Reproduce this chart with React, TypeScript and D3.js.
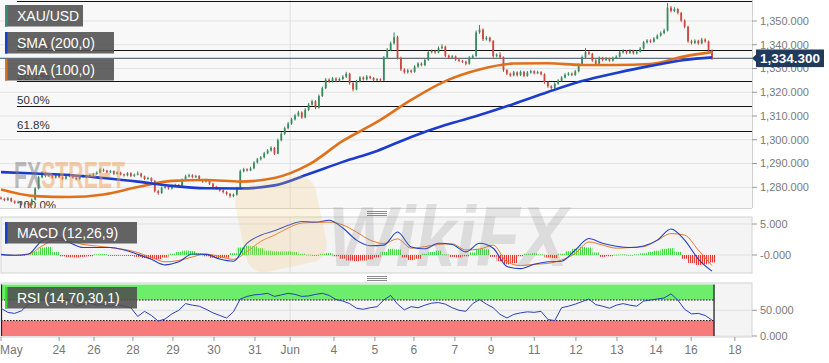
import React from 'react';
import * as d3 from 'd3';

// ---------- DATA ----------
const OPEN0 = 1275.6;
const closes = [
  1275.2,1274.6,1275.4,1274.1,1273.5,1273.9,1272.8,1273.4,1272.6,1274.8,
  1279.5,1284.2,1286.1,1284.8,1285.3,1284.1,1285.0,1284.3,1283.6,1284.7,
  1285.2,1284.0,1283.4,1284.5,1284.9,1284.2,1285.1,1285.6,1286.2,1287.4,
  1287.0,1286.3,1286.8,1285.7,1286.2,1285.4,1285.0,1285.9,1284.8,1285.3,
  1285.8,1284.6,1283.5,1283.9,1282.7,1278.4,1277.6,1279.8,1280.3,1279.5,
  1280.6,1281.0,1280.4,1283.2,1284.6,1285.1,1284.3,1284.8,1283.0,1282.4,
  1283.1,1281.5,1280.2,1279.6,1278.7,1278.0,1277.2,1276.3,1276.9,1279.6,
  1286.8,1287.6,1287.1,1288.0,1290.4,1291.8,1292.6,1294.3,1295.5,1296.6,
  1294.2,1299.8,1302.5,1304.9,1306.8,1308.6,1310.2,1311.5,1309.4,1312.6,
  1314.8,1316.2,1313.5,1318.4,1321.7,1325.3,1324.6,1325.8,1324.9,1325.6,
  1326.5,1327.8,1323.9,1321.2,1324.6,1326.2,1325.4,1326.6,1326.0,1325.1,
  1325.5,1325.0,1334.6,1337.8,1340.6,1343.2,1334.5,1329.6,1328.4,1329.2,
  1328.6,1330.8,1332.1,1331.4,1333.6,1336.9,1337.4,1336.8,1338.6,1339.2,
  1335.4,1334.6,1335.1,1333.8,1333.2,1332.9,1332.0,1334.6,1335.3,1345.2,
  1346.4,1342.3,1343.0,1341.6,1335.2,1335.8,1334.7,1329.3,1327.8,1327.1,
  1328.4,1327.2,1328.6,1326.9,1328.3,1328.9,1328.0,1328.5,1327.6,1324.3,
  1322.5,1321.8,1323.6,1324.9,1326.2,1327.4,1327.9,1327.3,1328.8,1331.6,
  1334.8,1336.9,1336.2,1333.4,1332.0,1334.5,1333.6,1334.2,1333.3,1334.4,
  1335.0,1336.8,1337.4,1336.6,1337.5,1336.4,1337.1,1338.4,1341.0,1341.8,
  1341.3,1342.6,1343.8,1344.9,1346.0,1355.6,1354.2,1355.0,1353.4,1350.2,
  1347.6,1341.5,1340.8,1341.7,1340.6,1342.2,1341.4,1337.6,1334.3
];
const highs = [
  1276.1,1275.6,1275.9,1275.7,1274.5,1274.4,1274.2,1273.9,1273.7,1275.3,
  1280.1,1284.8,1286.8,1286.5,1285.9,1285.7,1285.5,1285.4,1284.7,1285.2,
  1285.8,1285.6,1284.4,1285.0,1285.4,1285.3,1285.6,1286.1,1286.7,1288.0,
  1287.9,1287.4,1287.3,1287.1,1286.7,1286.6,1285.8,1286.4,1286.3,1285.8,
  1286.7,1286.1,1284.9,1284.4,1284.2,1283.0,1279.0,1280.3,1280.9,1280.7,
  1281.1,1281.5,1281.4,1283.7,1285.3,1285.7,1285.5,1285.2,1285.1,1283.4,
  1283.6,1283.5,1281.9,1280.6,1280.0,1279.1,1278.4,1277.6,1277.4,1280.2,
  1287.5,1288.2,1288.0,1288.6,1291.0,1292.4,1293.2,1294.9,1296.1,1297.3,
  1297.0,1300.5,1303.2,1305.6,1307.5,1309.3,1310.9,1312.2,1312.0,1313.3,
  1315.5,1316.9,1316.7,1319.1,1322.4,1326.0,1325.9,1326.4,1326.3,1326.2,
  1327.2,1328.6,1328.2,1324.4,1325.2,1326.8,1326.7,1327.2,1327.0,1326.4,
  1326.0,1325.9,1335.3,1338.6,1341.4,1345.2,1343.8,1335.0,1330.1,1329.8,
  1329.6,1331.4,1332.7,1332.6,1334.2,1337.5,1338.0,1337.9,1339.3,1340.2,
  1339.6,1335.9,1335.7,1335.5,1334.3,1333.7,1333.3,1335.2,1335.9,1346.0,
  1348.3,1346.9,1343.7,1343.4,1342.0,1336.4,1336.9,1335.1,1329.8,1328.3,
  1329.0,1328.8,1329.2,1329.0,1328.9,1329.5,1329.3,1329.1,1328.9,1328.0,
  1324.8,1323.0,1324.2,1325.5,1326.8,1328.0,1328.5,1328.3,1329.4,1332.2,
  1335.5,1338.6,1337.5,1336.6,1333.9,1335.1,1334.9,1334.8,1334.6,1335.0,
  1335.6,1337.4,1338.1,1337.8,1338.1,1337.9,1337.7,1339.0,1341.6,1342.4,
  1342.3,1343.2,1344.4,1345.6,1346.8,1357.6,1356.3,1355.8,1355.4,1353.9,
  1350.7,1348.0,1342.1,1342.3,1342.1,1342.9,1342.7,1341.8,1338.0
];
const lows = [
  1274.8,1274.1,1274.3,1273.7,1273.0,1273.1,1272.3,1272.4,1271.9,1272.2,
  1274.5,1279.1,1283.8,1284.2,1284.3,1283.6,1283.7,1283.8,1283.1,1283.2,
  1284.3,1283.6,1282.9,1283.0,1284.0,1283.8,1283.9,1284.7,1285.2,1285.9,
  1286.5,1285.8,1285.9,1285.2,1285.3,1285.0,1284.5,1284.6,1284.3,1284.4,
  1285.0,1284.1,1283.0,1283.1,1282.2,1277.8,1276.8,1277.2,1279.4,1279.0,
  1279.1,1280.2,1279.9,1280.0,1282.8,1284.1,1283.8,1283.9,1282.6,1281.9,
  1282.0,1281.0,1279.7,1279.0,1278.2,1277.4,1276.6,1275.6,1275.8,1276.5,
  1279.2,1286.3,1286.6,1286.8,1287.6,1290.0,1291.3,1292.2,1293.9,1295.0,
  1293.6,1293.9,1299.3,1302.0,1304.4,1306.3,1308.1,1309.7,1308.8,1309.0,
  1312.1,1314.3,1312.9,1313.1,1318.0,1321.3,1324.0,1324.1,1324.3,1324.4,
  1325.1,1326.0,1323.2,1320.4,1320.8,1324.1,1324.9,1325.0,1325.5,1324.6,
  1324.7,1324.5,1324.7,1334.1,1337.3,1340.1,1333.8,1328.9,1327.8,1327.9,
  1328.0,1328.2,1330.3,1330.9,1331.0,1333.2,1336.4,1336.2,1336.4,1338.1,
  1334.8,1334.0,1334.1,1333.2,1332.7,1332.3,1331.3,1331.6,1334.1,1334.9,
  1344.6,1341.6,1341.8,1341.0,1334.5,1334.7,1334.1,1328.6,1327.2,1326.5,
  1326.7,1326.6,1326.8,1326.3,1326.5,1327.8,1327.5,1327.6,1327.1,1323.6,
  1321.9,1320.9,1321.3,1323.1,1324.5,1325.8,1326.9,1326.8,1326.9,1328.4,
  1331.2,1334.3,1335.6,1332.8,1331.4,1331.6,1333.0,1333.1,1332.8,1332.9,
  1334.0,1334.6,1336.3,1336.0,1336.1,1335.9,1335.9,1336.7,1338.0,1340.5,
  1340.8,1340.9,1342.2,1343.4,1344.4,1345.6,1353.6,1353.7,1352.8,1349.5,
  1346.9,1340.8,1340.1,1340.3,1340.0,1340.2,1340.8,1336.9,1333.6
];

const smaIdx = [0,10,20,30,40,50,60,70,80,90,100,110,120,130,140,150,160,170,180,190,200,208];
const sma200 = [1286.4,1285.8,1285.2,1283.9,1282.4,1280.6,1279.6,1279.5,1280.8,1285.6,1290.7,1295.3,1301.2,1306.2,1310.4,1315.1,1320.1,1324.7,1328.1,1331.1,1333.6,1334.7];
const sma100 = [1279.1,1276.3,1275.9,1277.0,1280.1,1282.7,1283.1,1282.4,1283.9,1289.5,1299.5,1307.5,1316.8,1324.7,1329.6,1332.1,1332.2,1331.5,1331.5,1331.9,1335.1,1336.9];

const macdLine = [0.1,-0.05,0.15,2.3,2.9,2.0,1.2,1.2,1.2,0.8,0.1,-0.7,-1.6,-1.1,0.15,0.1,-0.65,-1.0,1.9,3.2,3.9,4.8,5.4,5.3,5.6,4.35,2.4,1.5,1.6,3.7,1.3,1.0,1.9,1.7,0.5,1.9,1.1,-1.85,-2.2,-1.5,-1.1,-1.0,0.8,2.65,1.9,1.4,1.2,1.45,2.4,4.2,2.4,-0.65,-2.6];
const signalLine = [0,-0.05,0.1,1.45,2.4,2.25,1.7,1.45,1.2,0.9,0.4,-0.4,-1.1,-0.9,-0.3,0.15,-0.25,-0.7,0.55,2.2,3.2,4.35,5.15,5.25,5.3,4.85,3.7,2.4,1.85,2.6,1.1,1.35,1.7,1.8,0.8,0.95,1.6,-1.1,-1.7,-1.5,-1.35,-0.8,0.25,2.1,1.6,1.1,1.2,1.35,2.35,3.45,3.2,0.8,-1.7];
const histVals = [
  0.1,0.05,-0.05,-0.1,0.1, 0.6,1.2,1.3,0.5,-0.2, -0.35,-0.4,-0.3,-0.2,0.1,
  0.15,-0.1,-0.1,-0.1,-0.15, -0.3,-0.5,-0.6,-0.65,-0.4, 0.2,0.5,0.7,0.65,0.3,
  -0.2,-0.45,-0.5,-0.4,0.3, 1.2,1.5,1.4,1.1,0.7, 0.6,0.55,0.6,0.5,0.2,
  0.05,-0.05,0.2,0.3,-0.2, -0.6,-0.9,-1.0,-0.9,-0.7, -0.4,0.5,1.0,0.9,-0.4,
  -0.8,-0.6,0.2,0.5,0.7, 0.1,-0.3,-0.4,-0.2,0.4, 1.0,0.9,-0.3,-1.0,-1.5,
  -1.3,-0.2,0.2,0.3,0.1, -0.4,-0.5,0.2,0.6,1.0, 1.3,1.2,0.4,-0.3,-0.2,
  0.05,0.1,0.0,0.1,0.3, 0.5,0.7,1.0,1.1,0.5, -0.6,-1.3,-1.6,-1.5,-1.2
];
const rsiVals = [
  54,46,44,49,62, 65,70,66,67,72, 70,58,61,64,60, 61,58,61,58,55,
  38,48,40,29,33, 43,50,63,60,58, 52,45,40,35,47, 72,77,80,81,83,
  77,80,83,81,77, 78,81,83,79,71, 68,63,54,52,55, 57,70,79,62,51,
  57,55,60,64,65, 62,55,50,48,63, 71,62,55,42,35, 42,45,47,46,48,
  32,30,55,58,62, 67,72,61,58,54, 60,63,60,58,68, 70,72,74,82,70,
  52,43,44,40,31
];

const xTickIdx = [0,17,27.2,38.6,50.3,62.3,74.3,84.6,97.4,109.4,120.8,132.8,143.4,156,168.2,180.2,191.6,201.9,214.7];
const xTickLabels = ['May','24','26','28','29','30','31','Jun','4','5','6','7','9','11','12','13','14','16','18'];
const monthIdx = [84.6];
const priceTicks = [1280,1290,1300,1310,1320,1330,1340,1350];
const macdTicks = [5, 0];
const macdTickLabels = ['5.000', '-0.000'];
const rsiTicks = [50, 0];
const rsiTickLabels = ['50.000', '0.000'];
const fibHigh = 1358.5;
const fibLow = 1270.1;
const fibLevels = [0, 0.236, 0.382, 0.5, 0.618, 1];
const fibLabels = ['', '23.6%', '38.2%', '50.0%', '61.8%', '100.0%'];
const lastPrice = 1334.3;
const rsiUpper = 70;
const rsiLower = 30;

// ---------- CHART ----------
const W = 829, H = 363;
const FONT = "'Liberation Sans', Arial, Helvetica, sans-serif";
const UP = '#3b8a5e';
const DOWN = '#c9493f';
const BLUE = '#1c3dcc';
const ORANGE = '#e0711c';

export default function App() {
  const plotL = 1, plotR = 752;
  const mainTop = 0, mainBot = 208;
  const macdTop = 217, macdBot = 273;
  const rsiTop = 283, rsiBot = 337;

  const x = d3.scaleLinear().domain([0, 220]).range([1, 753]);
  const step = x(1) - x(0);
  const yP = d3.scaleLinear().domain([1280, 1350]).range([187.3, 21]);
  const yM = d3.scaleLinear().domain([0, 5]).range([255, 224]);
  const yR = d3.scaleLinear().domain([0, 100]).range([336, 284.6]);

  const last = closes.length - 1;
  const dataRight = x(last) + step * 0.6;

  const candles = closes.map((c, i) => ({
    i, c, o: i === 0 ? OPEN0 : closes[i - 1], h: highs[i], l: lows[i],
  }));

  const smaPath = (vals: number[]) =>
    d3.line<number>().x((_, k) => x(smaIdx[k])).y(v => yP(v)).curve(d3.curveMonotoneX)(vals) || '';
  const macdIdx = macdLine.map((_, k) => k * 4);
  const macdPath = (vals: number[]) =>
    d3.line<number>().x((_, k) => x(macdIdx[k])).y(v => yM(v)).curve(d3.curveMonotoneX)(vals) || '';
  const evenIdx = rsiVals.map((_, k) => k * 2);
  const rsiPath = d3.line<number>().x((_, k) => x(evenIdx[k])).y(v => yR(v))(rsiVals) || '';

  const fibY = (lv: number) => yP(fibHigh - lv * (fibHigh - fibLow));
  const fmt = d3.format(',.3f');

  const legend = (y: number, w: number, label: string, color: string) => (
    <g>
      <rect x={5} y={y} width={w} height={21.5} fill="rgb(78,78,78)" fillOpacity={0.88} />
      <rect x={5} y={y} width={2.5} height={21.5} fill={color} />
      <text x={17} y={y + 15.8} fill="#fff" fontSize={14} fontFamily={FONT}>{label}</text>
    </g>
  );

  const handle = (y: number) => (
    <g stroke="#8a8a8a" strokeWidth={1}>
      {[0, 2, 4].map(d => <line key={d} x1={367} x2={387} y1={y + d + 0.5} y2={y + d + 0.5} />)}
    </g>
  );

  return (
    <div style={{ position: 'absolute', left: 0, top: 0 }}>
      <svg width={W} height={H} style={{ display: 'block', background: '#fff' }} fontFamily={FONT}>
        <defs>
          <clipPath id="clipMain"><rect x={0} y={mainTop} width={plotR} height={mainBot - mainTop} /></clipPath>
          <clipPath id="clipMacd"><rect x={plotL} y={macdTop} width={plotR - plotL} height={macdBot - macdTop} /></clipPath>
          <clipPath id="clipRsi"><rect x={plotL} y={rsiTop} width={plotR - plotL} height={rsiBot - rsiTop} /></clipPath>
          <pattern id="stripeG" width={2} height={4} patternUnits="userSpaceOnUse">
            <rect x={0} y={0} width={1.1} height={4} fill="#3fd83f" />
          </pattern>
          <pattern id="stripeR" width={2} height={4} patternUnits="userSpaceOnUse">
            <rect x={0} y={0} width={1.1} height={4} fill="#e8352e" />
          </pattern>
        </defs>

        {/* panel backgrounds */}
        <rect x={0} y={mainTop} width={plotR} height={mainBot - mainTop} fill="#f8f8f8" />
        <rect x={plotL} y={macdTop} width={plotR - plotL} height={macdBot - macdTop} fill="#f4f4f4" stroke="#d2d2d2" />
        <rect x={plotL} y={rsiTop} width={plotR - plotL} height={rsiBot - rsiTop} fill="#f4f4f4" stroke="#d2d2d2" />
        <line x1={plotR + 0.5} x2={plotR + 0.5} y1={mainTop} y2={mainBot} stroke="#d2d2d2" />
        <line x1={0} x2={plotR} y1={mainBot + 0.5} y2={mainBot + 0.5} stroke="#d2d2d2" />

        {/* grid */}
        {priceTicks.map(t => (
          <line key={t} x1={0} x2={plotR} y1={yP(t)} y2={yP(t)} stroke="#e3e3e3" />
        ))}
        {macdTicks.map(t => (
          <line key={t} x1={plotL} x2={plotR} y1={yM(t)} y2={yM(t)} stroke="#e0e0e0" />
        ))}
        {rsiTicks.map(t => (
          <line key={t} x1={plotL} x2={plotR} y1={yR(t)} y2={yR(t)} stroke="#e0e0e0" />
        ))}
        {monthIdx.map(m => (
          <g key={m} stroke="#dedede">
            <line x1={x(m)} x2={x(m)} y1={mainTop} y2={mainBot} />
            <line x1={x(m)} x2={x(m)} y1={macdTop} y2={macdBot} />
            <line x1={x(m)} x2={x(m)} y1={rsiTop} y2={rsiBot} />
          </g>
        ))}

        {/* main panel */}
        <g clipPath="url(#clipMain)">
          {fibLevels.map((lv, k) => (
            <g key={lv}>
              <line x1={17} x2={plotR} y1={Math.round(fibY(lv)) + 0.5} y2={Math.round(fibY(lv)) + 0.5} stroke="#111" strokeWidth={1.2} />
              {fibLabels[k] ? <text x={17} y={fibY(lv) - 1.5} fontSize={11.5} fill="#333">{fibLabels[k]}</text> : null}
            </g>
          ))}
          <line x1={0} x2={plotR} y1={yP(lastPrice)} y2={yP(lastPrice)} stroke="#3b4d63" strokeWidth={1} />
          {candles.map(d => {
            const col = d.c >= d.o ? UP : DOWN;
            const top = yP(Math.max(d.o, d.c));
            const bot = yP(Math.min(d.o, d.c));
            return (
              <g key={d.i}>
                <line x1={x(d.i)} x2={x(d.i)} y1={yP(d.h)} y2={yP(d.l)} stroke={col} strokeWidth={1} />
                <rect x={x(d.i) - 0.9} y={top} width={1.8} height={Math.max(1, bot - top)} fill={col} />
              </g>
            );
          })}
          <path d={smaPath(sma100)} fill="none" stroke={ORANGE} strokeWidth={2.6} />
          <path d={smaPath(sma200)} fill="none" stroke={BLUE} strokeWidth={2.6} />
        </g>

        {/* MACD panel */}
        <g clipPath="url(#clipMacd)">
          {histVals.map((v, k) => {
            const i = evenIdx[k];
            const y0 = yM(0), y1 = yM(v);
            return (
              <rect key={i} x={x(i - 1)} width={2 * step} y={Math.min(y0, y1)} height={Math.max(0.8, Math.abs(y1 - y0))}
                fill={v >= 0 ? 'url(#stripeG)' : 'url(#stripeR)'} />
            );
          })}
          <path d={macdPath(signalLine)} fill="none" stroke="#e8792a" strokeWidth={1} />
          <path d={macdPath(macdLine)} fill="none" stroke="#2340c4" strokeWidth={1.1} />
        </g>

        {/* RSI panel */}
        <g clipPath="url(#clipRsi)">
          <rect x={plotL} y={yR(100)} width={dataRight - plotL} height={yR(rsiUpper) - yR(100)} fill="#6cee6c" />
          <rect x={plotL} y={yR(rsiLower)} width={dataRight - plotL} height={yR(0) - yR(rsiLower)} fill="#f77b7b" />
          <line x1={plotL} x2={dataRight} y1={yR(rsiUpper)} y2={yR(rsiUpper)} stroke="#111" strokeDasharray="1.5,1.5" />
          <line x1={plotL} x2={dataRight} y1={yR(rsiLower)} y2={yR(rsiLower)} stroke="#111" strokeDasharray="1.5,1.5" />
          <line x1={dataRight} x2={dataRight} y1={yR(100)} y2={yR(0)} stroke="#111" strokeWidth={1.2} />
          <line x1={plotL + 0.5} x2={plotL + 0.5} y1={yR(100)} y2={yR(0)} stroke="#222" strokeWidth={1.2} />
          <path d={rsiPath} fill="none" stroke="#2740b8" strokeWidth={1} />
        </g>

        {/* drag handles */}
        {handle(211)}
        {handle(276)}

        {/* right axes */}
        {priceTicks.map(t => (
          <g key={t}>
            <line x1={plotR} x2={plotR + 5} y1={yP(t)} y2={yP(t)} stroke="#999" />
            <text x={760} y={yP(t)} dy="0.35em" fontSize={11} fill="#7a7a7a">{fmt(t)}</text>
          </g>
        ))}
        {macdTicks.map((t, k) => (
          <g key={t}>
            <line x1={plotR} x2={plotR + 5} y1={yM(t)} y2={yM(t)} stroke="#999" />
            <text x={760} y={yM(t)} dy="0.35em" fontSize={11} fill="#7a7a7a">{macdTickLabels[k]}</text>
          </g>
        ))}
        {rsiTicks.map((t, k) => (
          <g key={t}>
            <line x1={plotR} x2={plotR + 5} y1={yR(t)} y2={yR(t)} stroke="#999" />
            <text x={760} y={yR(t)} dy="0.35em" fontSize={11} fill="#7a7a7a">{rsiTickLabels[k]}</text>
          </g>
        ))}

        {/* last price tag */}
        <g>
          <polygon points={`${plotR},${yP(lastPrice)} ${plotR + 5},${yP(lastPrice) - 4.5} ${plotR + 5},${yP(lastPrice) + 4.5}`} fill="#1f3a5c" />
          <rect x={plotR + 4} y={yP(lastPrice) - 8.8} width={68} height={17.6} fill="#1f3a5c" />
          <text x={plotR + 38} y={yP(lastPrice)} dy="0.36em" textAnchor="middle" fontSize={13.5} fontWeight="bold" fill="#fff">{fmt(lastPrice)}</text>
        </g>

        {/* x axis */}
        {xTickIdx.map((t, k) => (
          <g key={k}>
            <line x1={x(t)} x2={x(t)} y1={rsiBot} y2={rsiBot + 4} stroke="#999" />
            <text x={k === 0 ? 0 : x(t)} y={354} textAnchor={k === 0 ? 'start' : 'middle'} fontSize={12} fill="#777">{xTickLabels[k]}</text>
          </g>
        ))}

        {/* watermarks */}
        <text x={14} y={188} fontSize={36} fontWeight="bold" textLength={111} lengthAdjust="spacingAndGlyphs" opacity={0.5}>
          <tspan fill="#7d7d7d">FX</tspan><tspan fill="#eea25a">STREET</tspan>
        </text>
        <g opacity={0.22}>
          <rect x={240} y={180} width={82} height={88} rx={18} fill="#f0c670" transform="rotate(-12 281 224)" />
          <text x={328} y={266} fontSize={86} fontWeight="bold" fill="#8a8a8a" fontStyle="italic" textLength={240} lengthAdjust="spacingAndGlyphs">WikiFX</text>
        </g>

        {/* legends */}
        {legend(5, 78, 'XAU/USD', '#3a8e78')}
        {legend(32, 109, 'SMA (200,0)', BLUE)}
        {legend(59, 109, 'SMA (100,0)', ORANGE)}
        {legend(222, 132, 'MACD (12,26,9)', BLUE)}
        {legend(287, 132, 'RSI (14,70,30,1)', '#33dd33')}
      </svg>
    </div>
  );
}
